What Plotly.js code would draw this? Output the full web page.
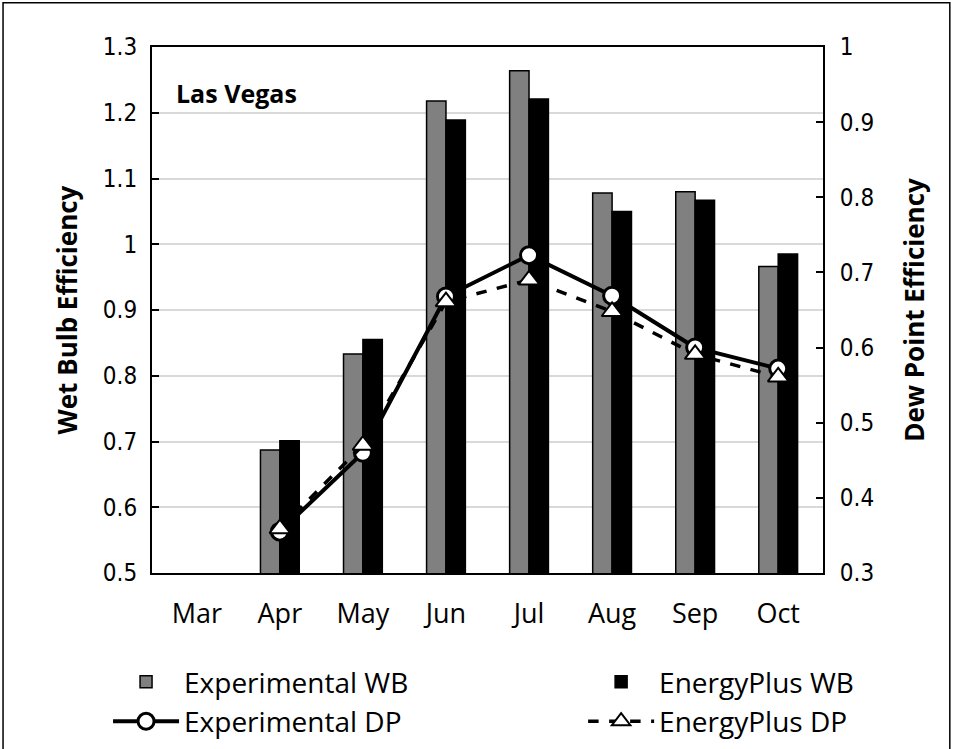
<!DOCTYPE html>
<html>
<head>
<meta charset="utf-8">
<script src="https://cdn.plot.ly/plotly-3.0.1.min.js"></script>
<style>
html,body{margin:0;padding:0;background:#fff;overflow:hidden;}
#chart{width:958px;height:770px;}
</style>
</head>
<body>
<div id="chart"></div>
<script>
// Data
var months = ["Mar", "Apr", "May", "Jun", "Jul", "Aug", "Sep", "Oct"];
var experimentalWB = [null, 0.687, 0.833, 1.218, 1.264, 1.078, 1.080, 0.966];
var energyPlusWB   = [null, 0.701, 0.855, 1.189, 1.221, 1.050, 1.067, 0.985];
var experimentalDP = [null, 0.355, 0.460, 0.668, 0.723, 0.669, 0.600, 0.572];
var energyPlusDP   = [null, 0.359, 0.470, 0.661, 0.690, 0.648, 0.591, 0.561];
var chartLabel = "Las Vegas";

var calibriLike = "Open Sans, Noto Sans, sans-serif";
var tickFont = "DejaVu Sans Condensed, DejaVu Sans, sans-serif";

var traces = [
  {
    type: "bar", name: "Experimental WB", x: months, y: experimentalWB,
    marker: {color: "#808080", line: {color: "#000", width: 1.5}},
    legend: "legend", yaxis: "y"
  },
  {
    type: "bar", name: "EnergyPlus WB", x: months, y: energyPlusWB,
    marker: {color: "#000000", line: {color: "#000", width: 1.5}},
    legend: "legend2", yaxis: "y"
  },
  {
    type: "scatter", mode: "lines+markers", name: "Experimental DP", x: months, y: experimentalDP,
    line: {color: "#000", width: 4},
    marker: {symbol: "circle", size: 17, color: "#fff", line: {color: "#000", width: 3}},
    legend: "legend", yaxis: "y2"
  },
  {
    type: "scatter", mode: "lines+markers", name: "EnergyPlus DP", x: months, y: energyPlusDP,
    line: {color: "#000", width: 3.5, dash: "dash"},
    marker: {symbol: "triangle-up", size: 18, color: "#fff", line: {color: "#000", width: 2}},
    legend: "legend2", yaxis: "y2"
  }
];

var layout = {
  width: 958, height: 770,
  margin: {l: 152, r: 135, t: 47, b: 197, pad: 0},
  paper_bgcolor: "#fff", plot_bgcolor: "#fff",
  barmode: "group", bargap: 0.533, bargroupgap: 0,
  showlegend: true,
  font: {family: calibriLike, color: "#000"},
  xaxis: {
    type: "category", automargin: false,
    showgrid: false, showline: true, linecolor: "#000", linewidth: 2, mirror: true,
    ticks: "", tickfont: {family: calibriLike, size: 27, color: "#000"},
    ticklabelstandoff: 16, fixedrange: true
  },
  yaxis: {
    range: [0.5, 1.3], dtick: 0.1, tick0: 0.5,
    showgrid: true, gridcolor: "#d9d9d9", gridwidth: 2,
    showline: true, linecolor: "#000", linewidth: 2,
    ticks: "inside", ticklen: 7, tickwidth: 2, tickcolor: "#000",
    tickfont: {family: tickFont, size: 24, color: "#000"},
    ticklabelstandoff: 8,
    zeroline: false,
    title: {text: "Wet Bulb Efficiency", font: {family: calibriLike, size: 26, color: "#000", weight: "bold"}, standoff: 18},
    automargin: false
  },
  yaxis2: {
    overlaying: "y", side: "right",
    range: [0.3, 1.0], dtick: 0.1, tick0: 0.3,
    showgrid: false, showline: true, linecolor: "#000", linewidth: 2,
    ticks: "inside", ticklen: 7, tickwidth: 2, tickcolor: "#000",
    tickfont: {family: tickFont, size: 24, color: "#000"},
    ticklabelstandoff: 10,
    zeroline: false,
    title: {text: "Dew Point Efficiency", font: {family: calibriLike, size: 26, color: "#000", weight: "bold"}, standoff: 33},
    automargin: false
  },
  legend: {
    orientation: "v", x: -0.0655, xanchor: "left", y: -0.16, yanchor: "top",
    font: {family: calibriLike, size: 28, color: "#000"},
    bgcolor: "rgba(0,0,0,0)", itemwidth: 66, tracegroupgap: 0, traceorder: "normal"
  },
  legend2: {
    orientation: "v", x: 0.6425, xanchor: "left", y: -0.16, yanchor: "top",
    font: {family: calibriLike, size: 28, color: "#000"},
    bgcolor: "rgba(0,0,0,0)", itemwidth: 66, tracegroupgap: 0, traceorder: "normal"
  },
  annotations: [
    {
      text: chartLabel, xref: "paper", yref: "paper", x: 0.033, y: 0.912,
      xanchor: "left", yanchor: "middle", showarrow: false,
      font: {family: calibriLike, size: 25, color: "#000", weight: "bold"}
    }
  ],
  shapes: [
    {
      type: "rect", xref: "paper", yref: "paper",
      x0: -0.222, x1: 1.189, y0: -0.5, y1: 1.084,
      line: {color: "#000", width: 1.5}, fillcolor: "rgba(0,0,0,0)", layer: "below"
    }
  ]
};

Plotly.newPlot("chart", traces, layout, {displayModeBar: false, staticPlot: true});
</script>
</body>
</html>
